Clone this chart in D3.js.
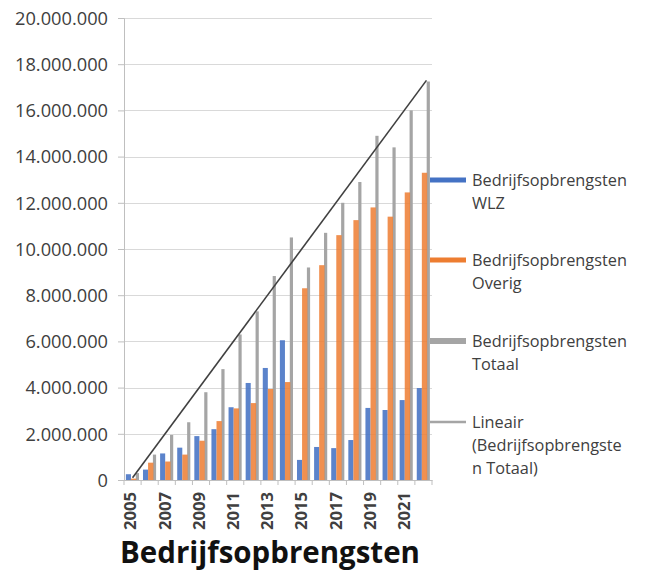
<!DOCTYPE html>
<html>
<head>
<meta charset="utf-8">
<script src="https://cdn.jsdelivr.net/npm/d3@7"></script>
<style>
  html, body { margin: 0; padding: 0; background: #ffffff; }
  svg { display: block; }
  text { font-family: "Open Sans", "Liberation Sans", sans-serif; }
</style>
</head>
<body>
<svg id="chart" width="646" height="575"></svg>
<script>
// ---- data ----
const years = ["2005","2006","2007","2008","2009","2010","2011","2012","2013","2014","2015","2016","2017","2018","2019","2020","2021","2022"];
const shownYears = ["2005","2007","2009","2011","2013","2015","2017","2019","2021"];
const wlz    = [250000, 450000, 1150000, 1400000, 1900000, 2200000, 3150000, 4200000, 4850000, 6050000, 870000, 1430000, 1380000, 1730000, 3120000, 3030000, 3460000, 3980000];
const overig = [60000, 750000, 800000, 1100000, 1700000, 2550000, 3100000, 3330000, 3940000, 4240000, 8300000, 9300000, 10600000, 11250000, 11800000, 11400000, 12450000, 13300000];
const totaal = [300000, 1100000, 1950000, 2500000, 3800000, 4800000, 6300000, 7300000, 8830000, 10500000, 9200000, 10700000, 12000000, 12900000, 14900000, 14400000, 16000000, 17250000];
const trendEnds = [100000, 17300000];   // linear trendline at first and last year
const yTicks = [0, 2000000, 4000000, 6000000, 8000000, 10000000, 12000000, 14000000, 16000000, 18000000, 20000000];
const legendLabels = [
  ["Bedrijfsopbrengsten", "WLZ"],
  ["Bedrijfsopbrengsten", "Overig"],
  ["Bedrijfsopbrengsten", "Totaal"],
  ["Lineair", "(Bedrijfsopbrengste", "n Totaal)"]
];
const title = "Bedrijfsopbrengsten";

// ---- layout ----
const svg = d3.select("#chart");
const plot = { left: 124, right: 432, top: 18, bottom: 480 };
const colors = { wlz: "#4472c4", overig: "#ed7d31", totaal: "#a5a5a5", trend: "#404040" };

const nl = d3.formatLocale({ decimal: ",", thousands: ".", grouping: [3], currency: ["", ""] });
const fmt = nl.format(",d");

const x = d3.scaleBand().domain(years).range([plot.left, plot.right]).paddingInner(0).paddingOuter(0);
const y = d3.scaleLinear().domain([0, 20000000]).range([plot.bottom, plot.top]);

function fitText(sel, target) {
  const node = sel.node();
  const fs = parseFloat(sel.attr("font-size"));
  const w = node.getComputedTextLength();
  sel.attr("font-size", (fs * target / w).toFixed(2));
}

// gridlines
svg.append("g")
  .selectAll("line").data(yTicks).join("line")
  .attr("x1", plot.left).attr("x2", plot.right)
  .attr("y1", d => Math.round(y(d)) + 0.5).attr("y2", d => Math.round(y(d)) + 0.5)
  .attr("stroke", "#d9d9d9").attr("stroke-width", 1.2);

// y axis
const yAxis = svg.append("g")
  .attr("transform", `translate(${plot.left},0)`)
  .call(d3.axisLeft(y).tickValues(yTicks).tickFormat(d => fmt(d)).tickSize(6).tickPadding(10));
yAxis.select(".domain").attr("stroke", "#bfbfbf");
yAxis.selectAll(".tick line").attr("stroke", "#bfbfbf");
yAxis.selectAll("text").attr("font-size", 15).attr("fill", "#404040");
{
  const t = yAxis.selectAll("text").filter(d => d === 20000000);
  const w = t.node().getComputedTextLength();
  const fs = 15 * 93 / w;
  yAxis.selectAll("text").attr("font-size", fs.toFixed(2)).attr("dy", "0.34em");
}

// bars
const bw = x.bandwidth();
const groupW = bw * 0.78;
const gx = (bw - groupW) / 2;
const blueW = groupW * 0.38, orangeW = groupW * 0.40, grayW = groupW * 0.24;

const gBars = svg.append("g");
gBars.selectAll("rect.totaal").data(years).join("rect")
  .attr("class", "totaal")
  .attr("x", (d) => x(d) + gx + blueW + orangeW - 0.5)
  .attr("width", grayW)
  .attr("y", (d, i) => y(totaal[i]))
  .attr("height", (d, i) => y(0) - y(totaal[i]))
  .attr("fill", colors.totaal);
gBars.selectAll("rect.wlz").data(years).join("rect")
  .attr("class", "wlz")
  .attr("x", (d) => x(d) + gx)
  .attr("width", blueW)
  .attr("y", (d, i) => y(wlz[i]))
  .attr("height", (d, i) => y(0) - y(wlz[i]))
  .attr("fill", colors.wlz).attr("opacity", 0.88);
gBars.selectAll("rect.overig").data(years).join("rect")
  .attr("class", "overig")
  .attr("x", (d) => x(d) + gx + blueW)
  .attr("width", orangeW)
  .attr("y", (d, i) => y(overig[i]))
  .attr("height", (d, i) => y(0) - y(overig[i]))
  .attr("fill", colors.overig).attr("opacity", 0.85);

// x axis
const xAxis = svg.append("g")
  .attr("transform", `translate(0,${plot.bottom})`)
  .call(d3.axisBottom(x).tickValues(shownYears).tickSize(0).tickPadding(8));
xAxis.select(".domain").attr("stroke", "#bfbfbf");
xAxis.selectAll("text")
  .attr("font-size", 14).attr("font-weight", "bold").attr("fill", "#404040")
  .attr("transform", "rotate(-90)")
  .attr("text-anchor", "end")
  .attr("x", -12).attr("y", -2).attr("dy", "0.35em");
{
  const t = xAxis.select("text");
  const w = t.node().getComputedTextLength();
  xAxis.selectAll("text").attr("font-size", (14 * 38 / w).toFixed(2));
}
// category boundary ticks
svg.append("g").selectAll("line").data(years.concat(["end"])).join("line")
  .attr("x1", d => d === "end" ? plot.right : x(d))
  .attr("x2", d => d === "end" ? plot.right : x(d))
  .attr("y1", plot.bottom).attr("y2", plot.bottom + 5)
  .attr("stroke", "#bfbfbf");

// trendline
svg.append("defs").append("clipPath").attr("id", "plotClip")
  .append("rect").attr("x", plot.left).attr("y", plot.top - 10)
  .attr("width", plot.right - plot.left + 10).attr("height", plot.bottom - plot.top + 10);
const firstYear = years[0], lastYear = years[years.length - 1];
svg.append("line")
  .attr("clip-path", "url(#plotClip)")
  .attr("x1", x(firstYear) + bw / 2).attr("y1", y(trendEnds[0]))
  .attr("x2", x(lastYear) + bw / 2 + 3).attr("y2", y(trendEnds[1]))
  .attr("stroke", colors.trend).attr("stroke-width", 1.6);

// legend
const legendItems = [
  { color: colors.wlz, h: 5, y: 180 },
  { color: colors.overig, h: 5, y: 260 },
  { color: colors.totaal, h: 6, y: 341 },
  { color: "#a5a5a5", h: 2.5, y: 422 }
];
const lg = svg.append("g");
legendItems.forEach((it, i) => {
  lg.append("rect").attr("x", 430).attr("width", 36)
    .attr("y", it.y - it.h / 2).attr("height", it.h).attr("fill", it.color);
  const tx = lg.append("text").attr("x", 472).attr("y", it.y).attr("font-size", 13).attr("fill", "#404040");
  legendLabels[i].forEach((ln, j) => {
    tx.append("tspan").attr("x", 472).attr("y", it.y + j * 23).attr("dy", "0.35em").text(ln);
  });
});
{
  const probe = lg.append("text").attr("font-size", 13).text(legendLabels[0][0]);
  const w = probe.node().getComputedTextLength();
  probe.remove();
  lg.selectAll("text").attr("font-size", (13 * 155 / w).toFixed(2));
}

// title
const tt = svg.append("text")
  .attr("x", 270).attr("y", 563)
  .attr("text-anchor", "middle")
  .attr("font-size", 28).attr("font-weight", "bold").attr("fill", "#111111")
  .text(title);
fitText(tt, 300);
</script>
</body>
</html>
